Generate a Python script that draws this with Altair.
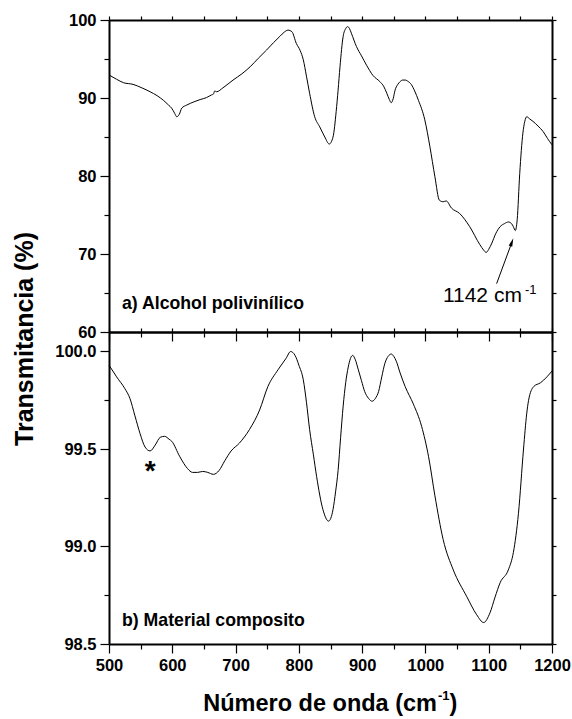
import altair as alt
import pandas as pd

# ---- data ----
wn_a = [500, 512, 523, 538, 552, 565, 576, 586, 594, 599, 604, 607, 611, 615, 623, 634, 644, 654, 662,
        665, 667, 670, 680, 696, 710, 723, 736, 749, 760, 770, 777, 783, 789, 796, 802, 807, 812, 817,
        825, 833, 841, 848, 854, 859, 862, 865, 870, 874, 877, 880, 883, 891, 899, 907, 917, 928, 934,
        939, 943, 946, 949, 952, 956, 960, 964, 968, 973, 978, 983, 989, 999, 1007, 1015, 1022, 1028,
        1033, 1041, 1054, 1070, 1086, 1092, 1096, 1100, 1105, 1111, 1118, 1125, 1131, 1136, 1139, 1142,
        1145, 1149, 1154, 1157, 1160, 1165, 1170, 1178, 1186, 1193, 1200]
t_a = [92.95, 92.4, 91.96, 91.75, 91.3, 90.8, 90.3, 89.7, 89.1, 88.7, 88.0, 87.6, 87.9, 88.7, 89.1,
       89.5, 89.8, 90.05, 90.4, 90.5, 90.9, 90.8, 91.3, 92.3, 93.1, 94.0, 95.1, 96.15, 97.1, 97.9,
       98.45, 98.7, 98.5, 97.0, 96.1, 94.9, 92.8, 90.6, 87.6, 86.3, 85.0, 84.1, 85.0, 88.3, 91.0, 94.0,
       97.9, 98.9, 99.15, 98.9, 98.3, 96.6, 95.4, 94.2, 92.9, 92.1, 91.5, 90.6, 89.8, 89.4, 89.9, 91.0,
       91.7, 92.1, 92.3, 92.3, 92.1, 91.7, 90.9, 89.7, 87.2, 83.8, 79.9, 76.9, 76.7, 76.8, 75.9, 75.2,
       73.5, 71.2, 70.5, 70.2, 70.6, 71.4, 72.6, 73.5, 73.9, 74.1, 73.9, 73.5, 73.0, 74.4, 80.3, 85.5,
       87.0, 87.6, 87.3, 87.0, 86.4, 85.7, 84.8, 84.0]

wn_b = [500, 506, 512, 525, 533, 541, 549, 557, 565, 573, 581, 588, 595, 599, 612, 624, 632, 640, 648,
        656, 665, 674, 683, 693, 706, 722, 738, 751, 767, 780, 787, 794, 800, 807, 812, 817, 823, 828,
        838, 847, 854, 858, 862, 866, 870, 874, 878, 885, 889, 894, 899, 904, 910, 916, 921, 926, 931,
        936, 941, 946, 950, 954, 960, 968, 981, 994, 1005, 1015, 1028, 1044, 1065, 1081, 1092, 1102,
        1110, 1118, 1131, 1139, 1147, 1155, 1160, 1163, 1171, 1182, 1192, 1200]
t_b = [99.93, 99.90, 99.87, 99.81, 99.76, 99.67, 99.58, 99.51, 99.49, 99.52, 99.56, 99.565, 99.55,
       99.54, 99.46, 99.40, 99.38, 99.38, 99.385, 99.38, 99.37, 99.39, 99.44, 99.49, 99.53, 99.60,
       99.70, 99.82, 99.906, 99.966, 100.0, 99.98, 99.93, 99.855, 99.74, 99.60, 99.47, 99.36, 99.19,
       99.13, 99.19, 99.28, 99.39, 99.56, 99.72, 99.84, 99.92, 99.98, 99.96, 99.906, 99.85, 99.795,
       99.76, 99.745, 99.76, 99.795, 99.87, 99.94, 99.975, 99.987, 99.975, 99.95, 99.89, 99.82, 99.73,
       99.616, 99.46, 99.26, 99.036, 98.88, 98.745, 98.65, 98.61, 98.66, 98.74, 98.814, 98.88, 98.97,
       99.17, 99.50, 99.68, 99.75, 99.82, 99.84, 99.87, 99.90]

x_ticks = list(range(500, 1201, 50))
ya_ticks = list(range(60, 101, 5))
yb_ticks = [98.5, 98.75, 99.0, 99.25, 99.5, 99.75, 100.0]

label_a = "a) Alcohol polivinílico"
label_b = "b) Material composito"
ytitle = "Transmitancia (%)"
xtitle_main = "Número de onda (cm"
xtitle_sup = "-1"
xtitle_end = ")"
ann_main = "1142 cm"
ann_sup = "-1"

FONT = "Liberation Sans"
W, H = 443, 312
PAD_L, PAD_T, PAD_R, PAD_B = 109, 20, 20, 75

df_a = pd.DataFrame({"wn": wn_a, "t": t_a})
df_b = pd.DataFrame({"wn": wn_b, "t": t_b})

xs = alt.Scale(domain=[500, 1200], nice=False, zero=False)
ysa = alt.Scale(domain=[60, 100], nice=False, zero=False)
ysb = alt.Scale(domain=[98.5, 100.1], nice=False, zero=False)

tick_x = {"condition": {"test": "datum.value % 100 === 0", "value": 9}, "value": 5}
tick_ya = {"condition": {"test": "datum.value % 10 === 0", "value": 9}, "value": 5}
tick_yb = {"condition": {"test": "abs(datum.value*2 - round(datum.value*2)) < 0.001", "value": 9}, "value": 5}


def sec_axis(orient, values):
    return alt.Axis(orient=orient, values=values, labels=False, title=None, tickSize=4,
                    domainWidth=2, domainColor="black", tickColor="black", tickWidth=1.2, grid=False)


def text_layer(df, yscale, **kw):
    return alt.Chart(df).mark_text(font=FONT, color="black", **kw).encode(
        x=alt.X("x:Q", scale=xs, axis=None),
        y=alt.Y("y:Q", scale=yscale, axis=None),
        text="s:N",
    )


def extent_rule(x1, x2, y1, y2):
    # invisible rule used only to fix the canvas extent
    return alt.Chart(pd.DataFrame({"k": [0]})).mark_rule(opacity=0, color="white").encode(
        x=alt.value(x1), x2=alt.value(x2), y=alt.value(y1), y2=alt.value(y2))


# ---------- top panel ----------
line_a = alt.Chart(df_a).mark_line(color="black", strokeWidth=1, interpolate="monotone").encode(
    x=alt.X("wn:Q", scale=xs, axis=alt.Axis(orient="bottom", values=x_ticks, labels=False, title=None,
                                             tickSize=tick_x, grid=False)),
    y=alt.Y("t:Q", scale=ysa, axis=alt.Axis(orient="left", values=ya_ticks, title=None, grid=False,
                                            tickSize=tick_ya,
                                            labelExpr="datum.value % 10 === 0 ? datum.label : ''")),
)
dummy_a = alt.Chart(df_a).mark_line(opacity=0).encode(
    x=alt.X("wn:Q", scale=xs, axis=sec_axis("top", x_ticks)),
    y=alt.Y("t:Q", scale=ysa, axis=sec_axis("right", ya_ticks)),
)
lab_a = text_layer(pd.DataFrame({"x": [520.5], "y": [62.95], "s": [label_a]}), ysa,
                   align="left", baseline="alphabetic", fontSize=17.7, fontWeight="bold")
ann1 = text_layer(pd.DataFrame({"x": [1027.6], "y": [63.85], "s": [ann_main]}), ysa,
                  align="left", baseline="alphabetic", fontSize=21)
ann2 = text_layer(pd.DataFrame({"x": [1157.3], "y": [64.9], "s": [ann_sup]}), ysa,
                  align="left", baseline="alphabetic", fontSize=13)
arrow_df = pd.DataFrame({"x": [1112.5], "y": [66.2], "x2": [1136.6], "y2": [71.5]})
arrow_line = alt.Chart(arrow_df).mark_rule(color="black", strokeWidth=1).encode(
    x=alt.X("x:Q", scale=xs, axis=None), y=alt.Y("y:Q", scale=ysa, axis=None),
    x2="x2:Q", y2="y2:Q",
)
head_df = pd.DataFrame({"x": [1136.6], "y": [71.5]})
arrow_head = alt.Chart(head_df).mark_point(
    shape="M0,-1L0.45,1L-0.45,1Z", filled=True, color="black", opacity=1, size=70, angle=20
).encode(x=alt.X("x:Q", scale=xs, axis=None), y=alt.Y("y:Q", scale=ysa, axis=None))
ytitle_layer = alt.Chart(pd.DataFrame({"s": [ytitle]})).mark_text(
    font=FONT, fontSize=25, fontWeight="bold", angle=270, align="center", baseline="alphabetic", color="black"
).encode(x=alt.value(-76), y=alt.value(319), text="s:N")
ext_top = extent_rule(-PAD_L, W + PAD_R, -PAD_T, -PAD_T)

top = alt.layer(line_a, dummy_a, lab_a, ann1, ann2, arrow_line, arrow_head, ytitle_layer, ext_top).resolve_axis(
    x="independent", y="independent").properties(width=W, height=H)

# ---------- bottom panel ----------
line_b = alt.Chart(df_b).mark_line(color="black", strokeWidth=1, interpolate="monotone").encode(
    x=alt.X("wn:Q", scale=xs, axis=alt.Axis(orient="bottom", values=x_ticks, title=None, grid=False,
                                             tickSize=tick_x, format="d", labelFlush=False,
                                             labelOverlap=False,
                                             labelExpr="datum.value % 100 === 0 ? datum.label : ''")),
    y=alt.Y("t:Q", scale=ysb, axis=alt.Axis(orient="left", values=yb_ticks, title=None, grid=False,
                                            tickSize=tick_yb,
                                            labelExpr="abs(datum.value*2 - round(datum.value*2)) < 0.001 ? format(datum.value, '.1f') : ''")),
)
dummy_b = alt.Chart(df_b).mark_line(opacity=0).encode(
    x=alt.X("wn:Q", scale=xs, axis=sec_axis("top", x_ticks)),
    y=alt.Y("t:Q", scale=ysb, axis=sec_axis("right", yb_ticks)),
)
lab_b = text_layer(pd.DataFrame({"x": [520.5], "y": [98.59], "s": [label_b]}), ysb,
                   align="left", baseline="alphabetic", fontSize=17.7, fontWeight="bold")
star = text_layer(pd.DataFrame({"x": [565], "y": [99.425], "s": ["*"]}), ysb,
                  align="center", baseline="middle", fontSize=28, fontWeight="bold", dy=8)
xt1 = alt.Chart(pd.DataFrame({"s": [xtitle_main]})).mark_text(
    font=FONT, fontSize=23.5, fontWeight="bold", align="right", baseline="alphabetic", color="black"
).encode(x=alt.value(328), y=alt.value(379), text="s:N")
xt2 = alt.Chart(pd.DataFrame({"s": [xtitle_sup]})).mark_text(
    font=FONT, fontSize=13, fontWeight="bold", align="left", baseline="alphabetic", color="black"
).encode(x=alt.value(329), y=alt.value(368), text="s:N")
xt3 = alt.Chart(pd.DataFrame({"s": [xtitle_end]})).mark_text(
    font=FONT, fontSize=23.5, fontWeight="bold", align="left", baseline="alphabetic", color="black"
).encode(x=alt.value(340.5), y=alt.value(379), text="s:N")
ext_bot = extent_rule(-PAD_L, W + PAD_R, H + PAD_B, H + PAD_B)

bottom = alt.layer(line_b, dummy_b, lab_b, star, xt1, xt2, xt3, ext_bot).resolve_axis(
    x="independent", y="independent").properties(width=W, height=H)

chart = alt.vconcat(top, bottom, spacing=0, bounds="flush").properties(
    padding=0,
    background="white",
).configure_view(stroke=None).configure_axis(
    domainColor="black", domainWidth=2, tickColor="black", tickWidth=1.2,
    labelFont=FONT, labelFontSize=16.5, labelFontWeight="bold", labelColor="black", labelPadding=4,
)

chart.save("out.html", embed_options={"renderer": "svg", "actions": False})
